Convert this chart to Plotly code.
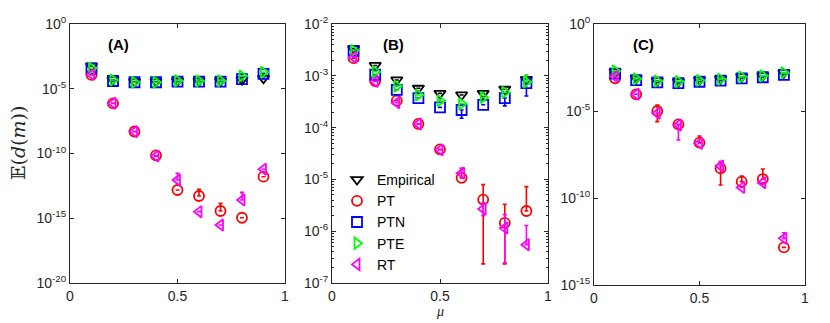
import plotly.graph_objects as go

# the page body has an 8px margin, so the figure is drawn 8px smaller
PAD = 8
W, H = 830 - PAD, 323 - PAD

mu = [0.1, 0.2, 0.3, 0.4, 0.5, 0.6, 0.7, 0.8, 0.9]
methods = ["Empirical", "PT", "PTN", "PTE", "RT"]

# values, stored as log10(E)
A_log = {
    "Empirical": [-3.24, -4.30, -4.45, -4.45, -4.40, -4.40, -4.40, -4.30, -4.20],
    "PT":        [-3.93, -6.13, -8.30, -10.15, -12.82, -13.28, -14.44, -14.96, -11.79],
    "PTN":       [-3.45, -4.40, -4.50, -4.50, -4.45, -4.45, -4.45, -4.25, -3.85],
    "PTE":       [-3.42, -4.32, -4.50, -4.50, -4.38, -4.40, -4.38, -4.02, -3.73],
    "RT":        [-3.89, -6.12, -8.31, -10.20, -12.05, -14.49, -15.52, -13.59, -11.22],
}
B_log = {
    "Empirical": [-2.48, -2.80, -3.08, -3.24, -3.34, -3.37, -3.34, -3.26, -3.07],
    "PT":        [-2.66, -3.10, -3.48, -3.93, -4.42, -4.97, -5.39, -5.84, -5.61],
    "PTN":       [-2.52, -2.98, -3.27, -3.43, -3.61, -3.66, -3.56, -3.43, -3.14],
    "PTE":       [-2.51, -2.92, -3.20, -3.37, -3.48, -3.54, -3.42, -3.32, -3.12],
    "RT":        [-2.64, -3.11, -3.52, -3.93, -4.43, -4.88, -5.57, -5.94, -6.26],
}
C_log = {
    "Empirical": [-2.74, -3.12, -3.26, -3.31, -3.22, -3.16, -3.03, -2.97, -2.80],
    "PT":        [-3.12, -4.04, -5.00, -5.77, -6.82, -8.30, -9.06, -8.91, -12.84],
    "PTN":       [-2.85, -3.22, -3.36, -3.40, -3.32, -3.26, -3.12, -3.06, -2.92],
    "PTE":       [-2.70, -3.15, -3.28, -3.31, -3.24, -3.17, -3.04, -2.98, -2.80],
    "RT":        [-3.02, -4.04, -5.13, -5.80, -6.86, -8.16, -9.39, -9.12, -12.32],
}

# error bar ends (log10), None = no visible bar
A_hi = {"PT": [None, None, None, None, None, -12.77, -13.85, None, None],
        "RT": [None, None, None, None, -11.53, None, None, -13.0, None]}
A_lo = {"Empirical": [None, None, None, None, None, None, None, -4.58, None]}
B_hi = {"PT": [None, None, None, None, None, -4.80, -5.10, -5.48, -5.14],
        "RT": [None, None, None, None, None, -4.78, -5.45, -5.68, -5.89],
        "PTE": [None, None, None, None, None, None, None, None, -2.98]}
B_lo = {"PT": [None, None, None, None, None, None, -6.63, -6.63, None],
        "RT": [None, None, None, None, None, None, -5.70, -6.61, None],
        "PTN": [None, None, None, None, None, -3.82, None, -3.58, -3.39]}
C_hi = {"PT": [None, None, -4.66, None, -6.44, -7.91, -8.74, -8.33, None],
        "RT": [None, None, None, None, None, -7.90, None, None, -12.0]}
C_lo = {"PT": [None, None, -5.61, None, None, -9.25, None, None, None],
        "RT": [None, None, None, -6.67, None, None, None, None, None]}

styles = {
    "Empirical": ("triangle-down-open", "#000000"),
    "PT": ("circle-open", "#ff0000"),
    "PTN": ("square-open", "#0000ff"),
    "PTE": ("triangle-right-open", "#00ff00"),
    "RT": ("triangle-left-open", "#ff00ff"),
}


def px(x):
    return (x - PAD) / W


def py(y):
    return 1 - (y - PAD) / H


# label, data, err hi, err lo, x px span, y px span, log range, tick exponents, label x
panels = [
    ("A", A_log, A_hi, A_lo, (70, 285), (24, 283), (-20, 0), [0, -5, -10, -15, -20], 118),
    ("B", B_log, B_hi, B_lo, (332, 548), (24, 283), (-7, -2), [-2, -3, -4, -5, -6, -7], 393),
    ("C", C_log, C_hi, C_lo, (594, 805), (24, 285), (-15, 0), [0, -5, -10, -15], 643),
]

fig = go.Figure()
axcol = "#262626"
tickfont = dict(family="Liberation Sans, Arial", size=14, color="#262626")

for i, (lab, logs, his, los, xs, ys, yr, yt, lx) in enumerate(panels):
    n = "" if i == 0 else str(i + 1)
    for m in methods:
        vals = [10 ** v for v in logs[m]]
        hi = his.get(m, [None] * 9)
        lo = los.get(m, [None] * 9)
        plus = [0 if h is None else 10 ** h - v for h, v in zip(hi, vals)]
        minus = [0 if l is None else v - 10 ** l for l, v in zip(lo, vals)]
        sym, col = styles[m]
        fig.add_trace(go.Scatter(
            x=mu, y=vals, mode="markers", name=m,
            xaxis="x" + n, yaxis="y" + n,
            showlegend=(i == 1),
            marker=dict(symbol=sym, size=10, color=col, line=dict(color=col, width=1.8)),
            error_y=dict(type="data", symmetric=False, array=plus, arrayminus=minus,
                         color=col, thickness=1.6, width=2),
        ))
    fig.layout["xaxis" + n] = dict(
        domain=[px(xs[0]), px(xs[1])], anchor="y" + n, range=[0, 1],
        tickvals=[0, 0.5, 1], ticktext=["0", "0.5", "1"],
        ticks="inside", ticklen=4, mirror="ticks", showline=True,
        linecolor=axcol, linewidth=1, tickcolor=axcol, showgrid=False,
        zeroline=False, tickfont=tickfont, automargin=False,
    )
    ydict = dict(
        domain=[py(ys[1]), py(ys[0])], anchor="x" + n, type="log",
        range=list(yr), tickvals=[10 ** t for t in yt],
        ticktext=["10<sup>%d</sup>" % t for t in yt],
        ticks="inside", ticklen=4, mirror="ticks", showline=True,
        linecolor=axcol, linewidth=1, tickcolor=axcol, showgrid=False,
        zeroline=False, tickfont=tickfont, automargin=False,
    )
    if lab == "B":
        ydict["minor"] = dict(ticks="inside", ticklen=2, tickcolor=axcol,
                              tickvals=[k * 10 ** e for e in range(-7, -2) for k in range(2, 10)])
    fig.layout["yaxis" + n] = ydict
    fig.add_annotation(text="<b>(%s)</b>" % lab, xref="paper", yref="paper",
                       x=px(lx), y=py(44), xanchor="center", yanchor="middle", showarrow=False,
                       font=dict(family="Liberation Sans, Arial", size=15, color="#000"))

fig.add_annotation(text="\U0001D53C(<i>d</i>(<i>m</i>))", xref="paper", yref="paper",
                   x=px(18), y=py(143), xanchor="center", yanchor="middle",
                   textangle=-90, showarrow=False,
                   font=dict(family="DejaVu Serif, Liberation Serif", size=19, color="#262626"))
fig.add_annotation(text="<i>μ</i>", xref="paper", yref="paper",
                   x=px(440), y=py(311), xanchor="center", yanchor="middle", showarrow=False,
                   font=dict(family="Liberation Serif", size=14, color="#262626"))

fig.update_layout(
    width=W, height=H, margin=dict(l=0, r=0, t=0, b=0),
    paper_bgcolor="white", plot_bgcolor="white",
    legend=dict(x=px(337), y=py(164), xanchor="left", yanchor="top",
                bgcolor="rgba(0,0,0,0)", font=dict(family="Liberation Sans, Arial", size=14, color="#000"),
                tracegroupgap=0, itemwidth=30),
)

fig.write_html("out.html")
